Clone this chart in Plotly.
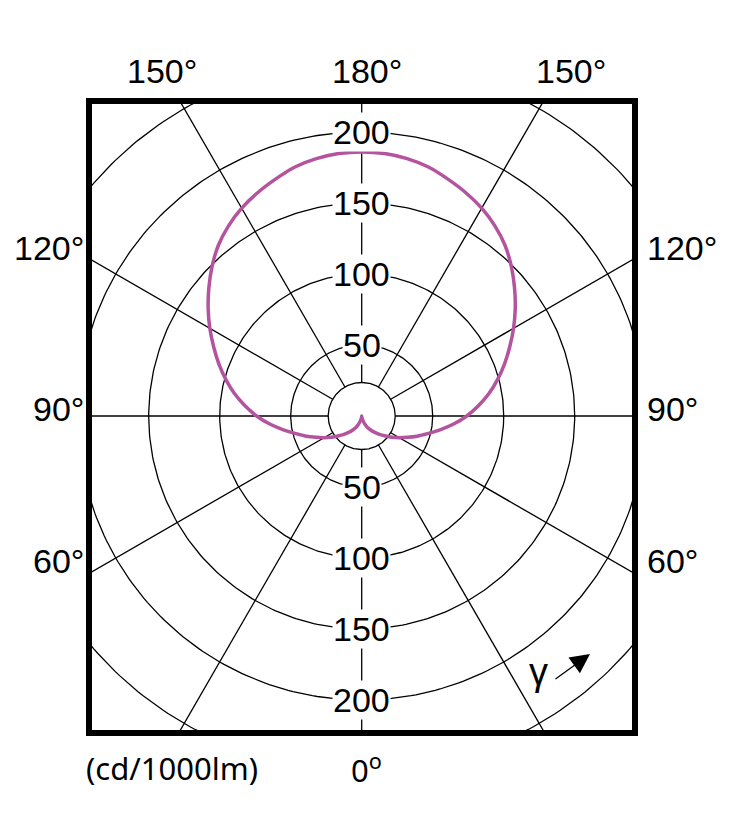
import numpy as np
import plotly.graph_objects as go

# luminous intensity (cd/1000lm) against gamma, 0 = straight down, 180 = straight up
gamma_deg = [0, 5, 10, 15, 20, 25, 30, 35, 40, 45, 50, 55, 60, 65, 70, 75, 80, 85, 90,
             95, 100, 105, 110, 115, 120, 125, 130, 135, 140, 145, 150, 155, 160, 165,
             170, 175, 180]
intensity = [0, 1, 2, 3.5, 5.5, 8, 10.5, 13, 15.5, 18.5, 22, 26, 30.5, 35.5, 41.5, 48, 56,
             65, 74, 82.5, 91, 99, 107, 115, 123.5, 132, 140.5, 149, 157, 163.5, 169,
             173.5, 177.5, 181.5, 184, 185.5, 186]

grid_radii = [23.6, 50, 100, 150, 200, 250]
ring_labels = [50, 100, 150, 200]
spoke_angles = list(range(0, 360, 30))

top_labels = ["150°", "180°", "150°"]
side_labels = ["120°", "90°", "60°"]
unit_label = "(cd/1000lm)"

# the page puts the figure 8px in from the window corner
OFF = 8
W, H = 739 - 2 * OFF, 813 - 2 * OFF
L, T, PW, PH = 89, 101, 546, 632          # plot box in window pixels
CX, CY, SCALE = 361.7, 416.0, 1.42        # centre in window px, px per cd/1000lm

x_range = [(L - CX) / SCALE, (L + PW - CX) / SCALE]
y_range = [(CY - T - PH) / SCALE, (CY - T) / SCALE]


def px(x, y):
    return (x - L) / PW, (T + PH - y) / PH


fig = go.Figure()

# grid circles
t = np.linspace(0, 2 * np.pi, 361)
for r in grid_radii:
    fig.add_trace(go.Scatter(x=r * np.cos(t), y=r * np.sin(t), mode="lines",
                             line=dict(color="black", width=1.3), hoverinfo="skip"))

# spokes, starting on the small inner circle
for a in spoke_angles:
    rad = np.radians(a)
    rr = np.array([grid_radii[0], 450])
    fig.add_trace(go.Scatter(x=rr * np.sin(rad), y=-rr * np.cos(rad), mode="lines",
                             line=dict(color="black", width=1.3), hoverinfo="skip"))

# intensity curve, mirrored for both half planes
g = np.radians(np.array(gamma_deg, dtype=float))
r = np.array(intensity, dtype=float)
xs = np.concatenate([-(r * np.sin(g))[::-1], (r * np.sin(g))[1:]])
ys = np.concatenate([-(r * np.cos(g))[::-1], -(r * np.cos(g))[1:]])
fig.add_trace(go.Scatter(x=xs, y=ys, mode="lines",
                         line=dict(color="#b4549f", width=3.5, shape="spline", smoothing=0.8),
                         hoverinfo="skip"))

ann = []
lab_font = dict(family="Liberation Sans, Arial", size=34, color="black")
for v in ring_labels:
    for sgn in (1, -1):
        ann.append(dict(x=0, y=sgn * v, xref="x", yref="y", text=str(v), showarrow=False,
                        font=lab_font, bgcolor="white", borderpad=0,
                        xanchor="center", yanchor="middle"))

for txt, cx in zip(top_labels, [161.7, 367, 570.5]):
    x0, y0 = px(cx, 71)
    ann.append(dict(x=x0, y=y0, xref="paper", yref="paper", text=txt, showarrow=False,
                    font=lab_font, xanchor="center", yanchor="middle"))

for txt, cy in zip(side_labels, [247.5, 409, 561]):
    x0, y0 = px(86, cy)
    ann.append(dict(x=x0, y=y0, xref="paper", yref="paper", text=txt, showarrow=False,
                    font=lab_font, xanchor="right", yanchor="middle"))
    x0, y0 = px(645, cy)
    ann.append(dict(x=x0, y=y0, xref="paper", yref="paper", text=txt, showarrow=False,
                    font=lab_font, xanchor="left", yanchor="middle"))

bot_font = dict(family="Noto Sans", size=31, color="black")
x0, y0 = px(84, 768)
ann.append(dict(x=x0, y=y0, xref="paper", yref="paper", text=unit_label, showarrow=False,
                font=bot_font, xanchor="left", yanchor="middle"))
x0, y0 = px(349, 768)
ann.append(dict(x=x0, y=y0, xref="paper", yref="paper", text="0<sup>o</sup>", showarrow=False,
                font=bot_font, xanchor="left", yanchor="middle"))

# gamma direction marker
x0, y0 = px(538.5, 672)
ann.append(dict(x=x0, y=y0, xref="paper", yref="paper", text="γ", showarrow=False,
                font=dict(family="Liberation Sans, Arial", size=38, color="black"),
                xanchor="center", yanchor="middle"))
x0, y0 = px(590, 654)
ann.append(dict(x=x0, y=y0, xref="paper", yref="paper", text="", showarrow=True,
                ax=-36, ay=26, arrowhead=2, arrowsize=3, arrowwidth=1.3,
                arrowcolor="black"))

fig.update_layout(
    width=W, height=H,
    margin=dict(l=L - OFF, r=W - (L - OFF) - PW, t=T - OFF, b=H - (T - OFF) - PH),
    paper_bgcolor="white", plot_bgcolor="white",
    showlegend=False,
    xaxis=dict(range=x_range, visible=False, fixedrange=True),
    yaxis=dict(range=y_range, visible=False, fixedrange=True),
    annotations=ann,
    shapes=[dict(type="rect", xref="paper", yref="paper", x0=0, x1=1, y0=0, y1=1,
                 line=dict(color="black", width=6), layer="above")],
)

fig.write_html("out.html")
